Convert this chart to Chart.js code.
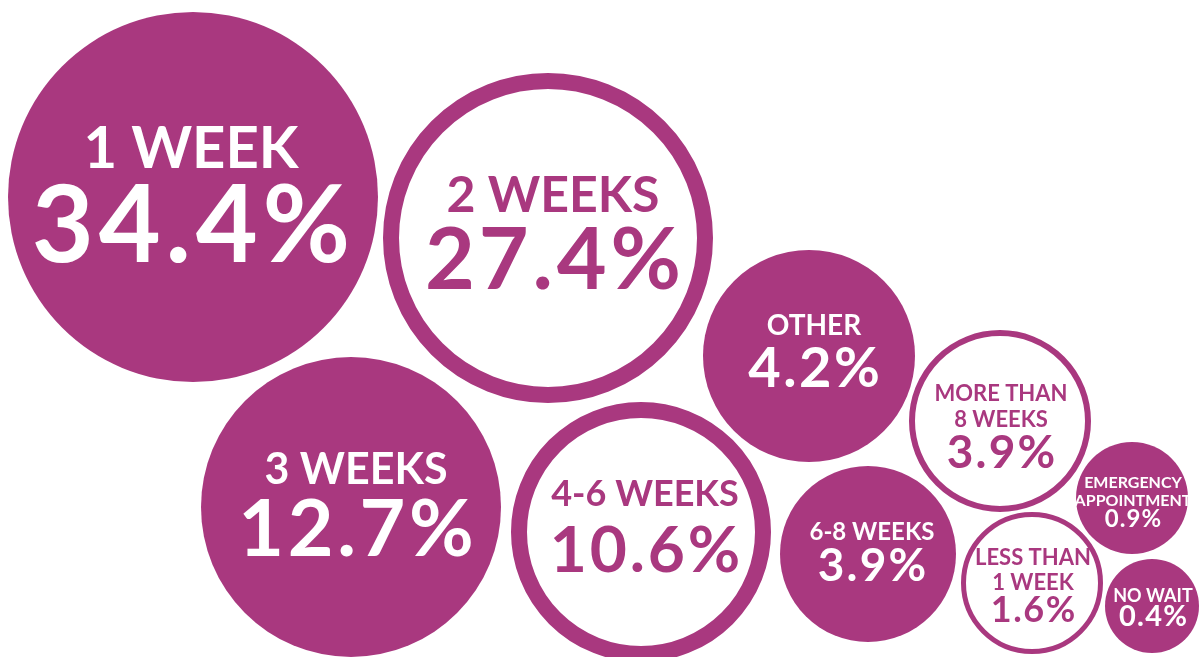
<!DOCTYPE html>
<html>
<head>
<meta charset="utf-8">
<script src="https://cdn.jsdelivr.net/npm/chart.js@4"></script>
<style>
    html, body { margin: 0; padding: 0; background: #fff; }
    #wrap { width: 1199px; height: 657px; }
</style>
</head>
<body>
<div id="wrap"><canvas id="waitChart" width="1199" height="657"></canvas></div>
<script>
const categories = [['1 WEEK'], ['2 WEEKS'], ['3 WEEKS'], ['4-6 WEEKS'], ['OTHER'], ['MORE THAN', '8 WEEKS'], ['6-8 WEEKS'], ['LESS THAN', '1 WEEK'], ['EMERGENCY', 'APPOINTMENT'], ['NO WAIT']];
const values = [34.4, 27.4, 12.7, 10.6, 4.2, 3.9, 3.9, 1.6, 0.9, 0.4];

// where each bubble sits (page units) and how big it is
const centerX = [193, 548, 351, 641, 809, 1000, 868, 1032, 1132, 1152];
const centerY = [197, 238, 507, 532, 356, 421, 554, 583, 498, 606];
const outerR = [185, 165, 150, 130, 106, 91, 88, 71, 56, 47];
const ringWidth = [0, 16, 0, 16, 0, 6, 0, 5, 0, 0]; // 0 = filled bubble

// text sizes and baselines (offset from bubble centre)
const labelSize = [58, 50, 43, 36, 28, 22, 24, 22, 16, 18];
const valueSize = [107, 86, 79, 64, 56, 46, 46, 36, 24, 29];
const labelBase = [[-29], [-26], [-23], [-26], [-21], [-20, 6], [-14], [-18, 7], [-10, 8], [-4]];
const valueBase = [65, 51, 49, 40, 31, 47, 27, 39, 29, 20];
const textShift = [-2, 5, 5, 4, 5, 1, 4, 1, 1, 1];

const purple = '#a9387f';
const fontFamily = 'Lato, "Open Sans", sans-serif';

const bubbleText = {
    id: 'bubbleText',
    afterDatasetsDraw(chart) {
        const ctx = chart.ctx;
        chart.getDatasetMeta(0).data.forEach((pt, i) => {
            const x = pt.x + textShift[i];
            ctx.save();
            ctx.fillStyle = ringWidth[i] ? purple : '#fff';
            ctx.textAlign = 'center';
            ctx.textBaseline = 'alphabetic';
            ctx.font = `700 ${labelSize[i]}px ${fontFamily}`;
            categories[i].forEach((line, j) => {
                ctx.fillText(line, x, pt.y + labelBase[i][j]);
            });
            // digits are a bit wider in the original face
            const gap = valueSize[i] * 0.045;
            ctx.letterSpacing = gap.toFixed(1) + 'px';
            ctx.font = `700 ${valueSize[i]}px ${fontFamily}`;
            ctx.fillText(values[i].toFixed(1) + '%', x + gap / 2, pt.y + valueBase[i]);
            ctx.restore();
        });
    }
};

const ctx = document.getElementById('waitChart').getContext('2d');
new Chart(ctx, {
    type: 'bubble',
    data: {
        labels: categories,
        datasets: [{
            data: values.map((v, i) => ({ x: centerX[i], y: centerY[i], r: outerR[i] - ringWidth[i] / 2 })),
            backgroundColor: ringWidth.map(w => (w ? '#fff' : purple)),
            borderColor: purple,
            borderWidth: ringWidth,
            clip: false,
        }],
    },
    options: {
        responsive: false,
        animation: false,
        events: [],
        layout: { padding: 0, autoPadding: false },
        plugins: {
            legend: { display: false },
            tooltip: { enabled: false },
        },
        scales: {
            x: { type: 'linear', display: false, min: 0, max: 1199 },
            y: { type: 'linear', display: false, min: 0, max: 657, reverse: true },
        },
    },
    plugins: [bubbleText],
});
</script>
</body>
</html>
